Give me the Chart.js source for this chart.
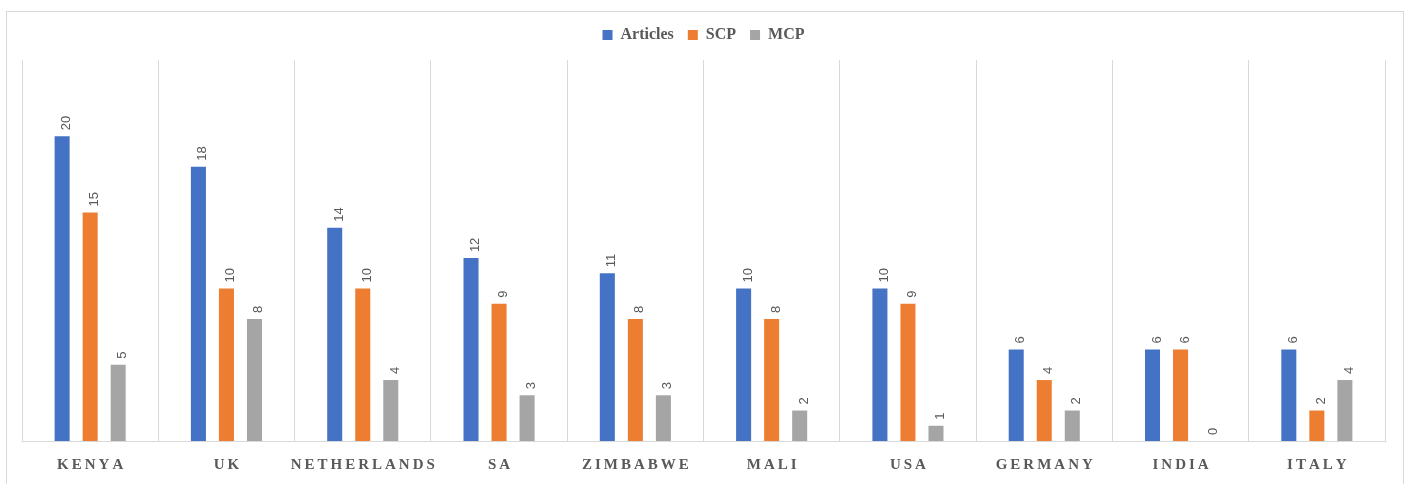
<!DOCTYPE html>
<html>
<head>
<meta charset="utf-8">
<script src="https://cdn.jsdelivr.net/npm/chart.js@4"></script>
<style>
  body { margin: 0; background: #fff; }
</style>
</head>
<body>
<canvas id="chart" width="1410" height="484"></canvas>
<script>
const categories = ['KENYA', 'UK', 'NETHERLANDS', 'SA', 'ZIMBABWE', 'MALI', 'USA', 'GERMANY', 'INDIA', 'ITALY'];
const articles = [20, 18, 14, 12, 11, 10, 10, 6, 6, 6];
const scp = [15, 10, 10, 9, 8, 8, 9, 4, 6, 2];
const mcp = [5, 8, 4, 3, 3, 2, 1, 2, 0, 4];

const grey = '#595959';
const serif = '"Liberation Serif", "DejaVu Serif", serif';

// outer frame like the Excel chart area
const framePlugin = {
    id: 'frame',
    beforeDraw(chart) {
        const ctx = chart.ctx;
        ctx.save();
        ctx.fillStyle = '#fff';
        ctx.fillRect(0, 0, chart.width, chart.height);
        ctx.strokeStyle = '#d9d9d9';
        ctx.lineWidth = 1;
        ctx.strokeRect(6.5, 11.5, 1397, 500);
        ctx.restore();
    }
};

// rotated value labels above the bars
const valueLabels = {
    id: 'valueLabels',
    afterDatasetsDraw(chart) {
        const ctx = chart.ctx;
        ctx.save();
        ctx.font = '13px "Liberation Sans", Arial, sans-serif';
        ctx.fillStyle = grey;
        ctx.textAlign = 'left';
        ctx.textBaseline = 'alphabetic';
        chart.data.datasets.forEach((ds, i) => {
            chart.getDatasetMeta(i).data.forEach((bar, j) => {
                ctx.save();
                ctx.translate(bar.x + 8, bar.y - 6);
                ctx.rotate(-Math.PI / 2);
                ctx.fillText(String(ds.data[j]), 0, 0);
                ctx.restore();
            });
        });
        ctx.restore();
    }
};

// category names with wide letter spacing, placed at the x scale's ticks
const spacedTicks = {
    id: 'spacedTicks',
    afterDraw(chart) {
        const ctx = chart.ctx;
        const x = chart.scales.x;
        const gap = 3;
        ctx.save();
        ctx.font = 'bold 15px ' + serif;
        ctx.fillStyle = grey;
        ctx.textAlign = 'left';
        ctx.textBaseline = 'middle';
        chart.data.labels.forEach((label, i) => {
            const chars = label.split('');
            const widths = chars.map(c => ctx.measureText(c).width);
            const total = widths.reduce((a, b) => a + b, 0) + gap * (chars.length - 1);
            let cx = x.getPixelForTick(i) - total / 2;
            chars.forEach((c, k) => {
                ctx.fillText(c, cx, x.bottom + 24);
                cx += widths[k] + gap;
            });
        });
        ctx.restore();
    }
};

// a bit more room under the legend
const legendGap = {
    id: 'legendGap',
    beforeInit(chart) {
        const fit = chart.legend.fit;
        chart.legend.fit = function () {
            fit.bind(chart.legend)();
            this.height += 7;
        };
    }
};

new Chart(document.getElementById('chart'), {
    type: 'bar',
    data: {
        labels: categories,
        datasets: [
            { label: 'Articles', data: articles, backgroundColor: '#4472C4', borderWidth: 0 },
            { label: 'SCP', data: scp, backgroundColor: '#ED7D31', borderWidth: 0 },
            { label: 'MCP', data: mcp, backgroundColor: '#A5A5A5', borderWidth: 0 }
        ]
    },
    options: {
        responsive: false,
        animation: false,
        categoryPercentage: 0.617,
        barPercentage: 0.536,
        layout: { padding: { top: 13, left: 22, right: 25, bottom: 43 } },
        plugins: {
            legend: {
                position: 'top',
                labels: {
                    boxWidth: 10,
                    boxHeight: 10,
                    padding: 14,
                    color: grey,
                    font: { family: serif, size: 16, weight: 'bold' }
                }
            },
            tooltip: { enabled: false }
        },
        scales: {
            x: {
                grid: { color: '#d9d9d9', drawTicks: false, offset: true },
                border: { color: '#d9d9d9' },
                ticks: { display: false }
            },
            y: {
                display: false,
                min: 0,
                max: 25
            }
        }
    },
    plugins: [framePlugin, valueLabels, spacedTicks, legendGap]
});
</script>
</body>
</html>
